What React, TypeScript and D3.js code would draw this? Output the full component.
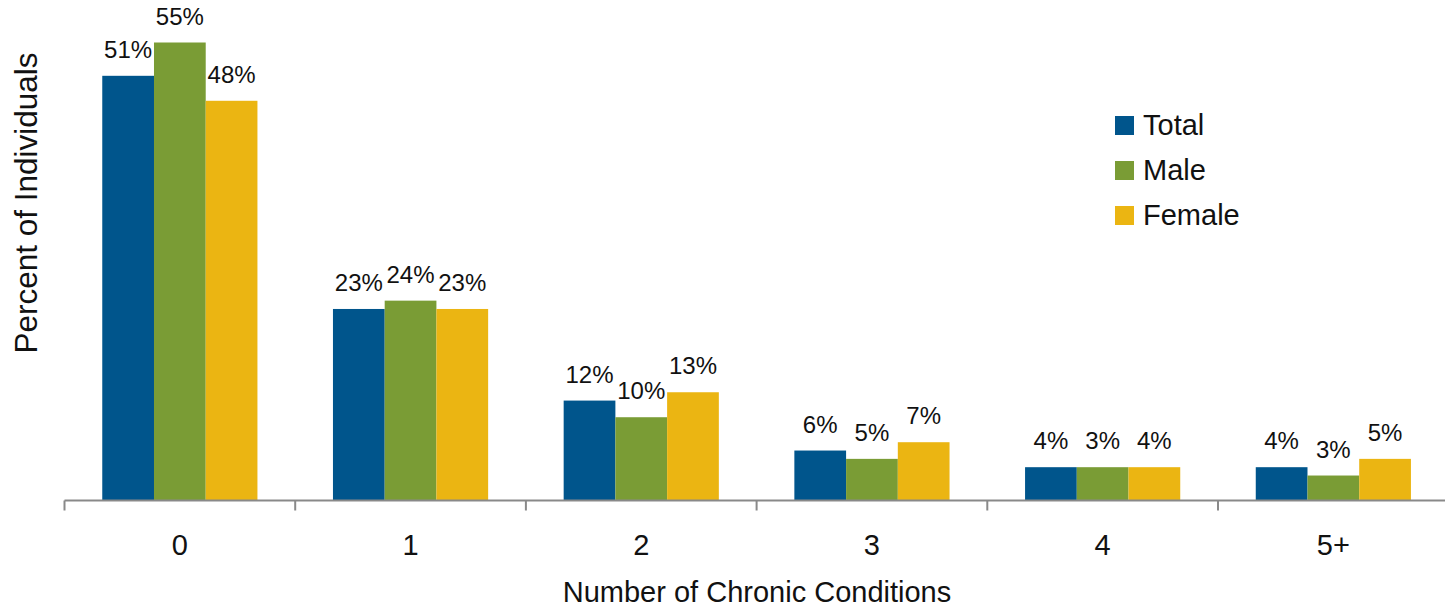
import React from 'react';
import * as d3 from 'd3';

const categories = ['0', '1', '2', '3', '4', '5+'];
const seriesNames = ['Total', 'Male', 'Female'];
// bar heights
const totalValues = [51, 23, 12, 6, 4, 4];
const maleValues = [55, 24, 10, 5, 4, 3];
const femaleValues = [48, 23, 13, 7, 4, 5];
// printed labels
const totalLabels = ['51%', '23%', '12%', '6%', '4%', '4%'];
const maleLabels = ['55%', '24%', '10%', '5%', '3%', '3%'];
const femaleLabels = ['48%', '23%', '13%', '7%', '4%', '5%'];
const colors = ['#00558C', '#7A9C35', '#EBB512'];

const W = 1445;
const H = 608;
const FONT = '"Liberation Sans", Arial, sans-serif';

export default function App() {
  const series = [totalValues, maleValues, femaleValues];
  const labels = [totalLabels, maleLabels, femaleLabels];
  const baseY = 500.5;
  const x = d3.scaleBand<string>().domain(categories).range([64.5, 64.5 + 230.7 * 6]).padding(0);
  const inner = d3
    .scaleBand<string>()
    .domain(seriesNames)
    .range([0, x.bandwidth()])
    .paddingInner(0)
    .paddingOuter(0.73);
  const y = d3.scaleLinear().domain([0, 55]).range([baseY, baseY - 458]);

  const ticks = [...categories.map((c) => x(c)!), x.range()[1]];

  return (
    <svg width={W} height={H} style={{ position: 'absolute', left: 0, top: 0 }} fontFamily={FONT}>
      <rect width={W} height={H} fill="#fff" />
      {categories.map((c, ci) => (
        <g key={c} transform={`translate(${x(c)},0)`}>
          {seriesNames.map((s, si) => {
            const v = series[si][ci];
            const bx = inner(s)!;
            return (
              <g key={s}>
                <rect x={bx} y={y(v)} width={inner.bandwidth()} height={baseY - y(v)} fill={colors[si]} />
                <text
                  x={bx + inner.bandwidth() / 2}
                  y={y(v) - 18}
                  textAnchor="middle"
                  fontSize={24}
                  fill="#111"
                >
                  {labels[si][ci]}
                </text>
              </g>
            );
          })}
          <text x={x.bandwidth() / 2} y={555} textAnchor="middle" fontSize={29} fill="#111">
            {c}
          </text>
        </g>
      ))}
      <line x1={x.range()[0]} x2={x.range()[1]} y1={baseY} y2={baseY} stroke="#898989" strokeWidth={2} />
      {ticks.map((t, i) => (
        <line key={i} x1={t} x2={t} y1={baseY} y2={baseY + 10} stroke="#898989" strokeWidth={2} />
      ))}
      <text x={757} y={602} textAnchor="middle" fontSize={29} fill="#111">
        Number of Chronic Conditions
      </text>
      <text
        transform="translate(37,203) rotate(-90)"
        textAnchor="middle"
        fontSize={31.5}
        fill="#111"
      >
        Percent of Individuals
      </text>
      {seriesNames.map((s, i) => (
        <g key={s} transform={`translate(1115,${116 + i * 45})`}>
          <rect width={19} height={19} fill={colors[i]} />
          <text x={28} y={18.5} fontSize={29} fill="#111">
            {s}
          </text>
        </g>
      ))}
    </svg>
  );
}
